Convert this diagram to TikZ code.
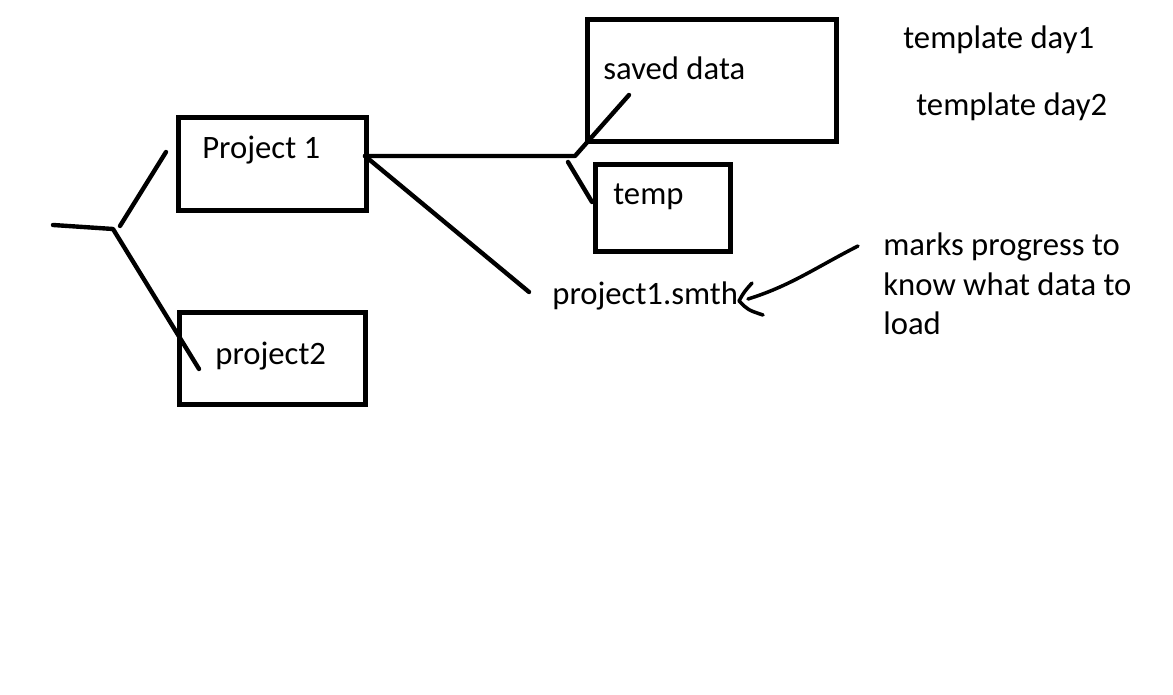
\documentclass[tikz,border=0pt]{standalone}
\usepackage{fontspec}
\setmainfont{Carlito}
\usetikzlibrary{positioning}

\begin{document}
\begin{tikzpicture}[x=0.02cm,y=-0.02cm,
    box/.style={draw,line width=2.9pt,inner sep=0pt},
    txt/.style={anchor=base west,inner sep=0pt,font=\fontsize{18.6}{22.4}\selectfont},
    pen/.style={line width=2.5pt,line cap=round,line join=round}]
			%%%%% START %%%%%
			\useasboundingbox (0,0) rectangle (1173,695);
			
			% boxes
			\node[box,minimum width=3.76cm,minimum height=1.86cm] (projA) at (272.5,164) {};
			\node[box,minimum width=3.72cm,minimum height=1.84cm] (projB) at (272.5,358.5) {};
			\node[box,minimum width=4.98cm,minimum height=2.44cm] (saved) at (712,80.5) {};
			\node[box,minimum width=2.70cm,minimum height=1.74cm] (tmp) at (663,208) {};
			
			% texts
			\node[txt] (projAtxt) at (202,159) {Project 1};
			\node[txt] (projBtxt) at (215,365) {project2};
			\node[txt] (savedtxt) at (603,80) {saved data};
			\node[txt] (tmptxt) at (613,205) {temp};
			\node[txt] (smth) at (552,305) {project1.smth};
			\node[txt] (dayA) at (903,49) {template day1};
			\node[txt] (dayB) at (916,116) {template day2};
			\node[txt] (noteA) at (883,256) {marks progress to};
			\node[txt] (noteB) at (883,296) {know what data to};
			\node[txt] (noteC) at (883,335) {load};
			
			% left fork
			\coordinate (stem) at (53,225);
			\coordinate (fork) at (113,229);
			\coordinate (forkup) at (120,226);
			\coordinate (toA) at (166,152);
			\coordinate (toB) at (199,369);
			\draw[pen] (stem) -- (fork) -- (toB);
			\draw[pen] (forkup) -- (toA);
			
			% right fork
			\coordinate (outA) at (365,156);
			\coordinate (knee) at (575,156);
			\coordinate (toSaved) at (629,95);
			\coordinate (kneelow) at (568,162);
			\coordinate (toTmp) at (592,202);
			\coordinate (toSmth) at (529,292);
			\draw[pen] (outA) -- (knee) -- (toSaved);
			\draw[pen] (kneelow) -- (toTmp);
			\draw[pen] (outA) -- (toSmth);
			
			% note arrow
			\coordinate (noteend) at (858,246);
			\coordinate (tip) at (739,301);
			\draw[pen,line width=2pt] (noteend) .. controls (815,268) and (790,286) .. (748,299);
			\draw[pen,line width=2pt] (752,283) .. controls (744,292) .. (tip) .. controls (748,310) .. (763,315);
			
			%%%%% END %%%%%
\end{tikzpicture}
\end{document}
